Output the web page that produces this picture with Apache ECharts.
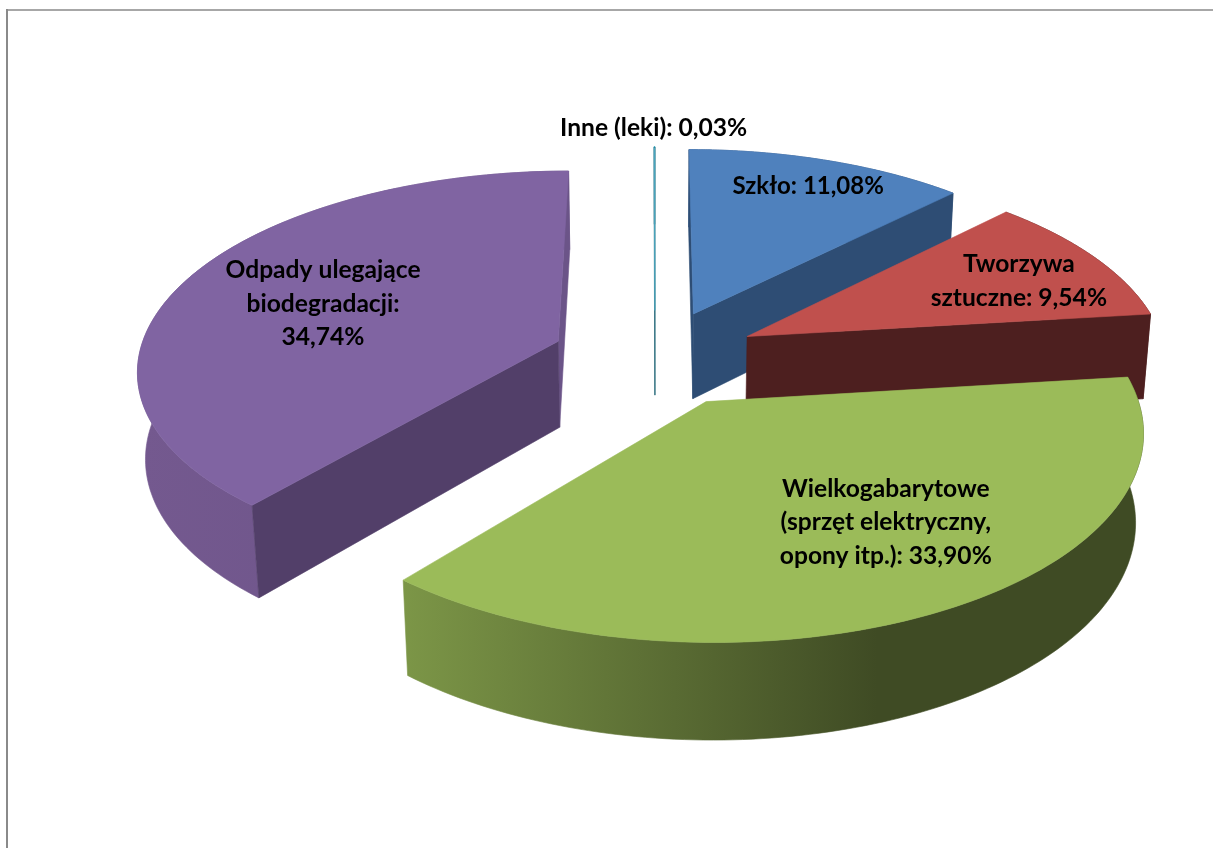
<!DOCTYPE html>
<html><head><meta charset="utf-8">
<style>html,body{margin:0;padding:0;background:#fff}#c{width:1213px;height:848px}</style>
<script src="https://cdn.jsdelivr.net/npm/echarts@6/dist/echarts.min.js"></script>
</head><body><div id="c"></div>
<script>
// Data, in the chart's clockwise order from twelve o'clock
const categories = ['Szkło', 'Tworzywa sztuczne', 'Wielkogabarytowe (sprzęt elektryczny, opony itp.)', 'Odpady ulegające biodegradacji', 'Inne (leki)'];
const values = [11.08, 9.54, 33.90, 34.74, 0.03];
const labels = ['Szkło: 11,08%', 'Tworzywa\nsztuczne: 9,54%', 'Wielkogabarytowe\n(sprzęt elektryczny,\nopony itp.): 33,90%', 'Odpady ulegające\nbiodegradacji:\n34,74%', 'Inne (leki): 0,03%'];

// Styles
const topColors = ['#4F81BD', '#C0504D', '#9BBB59', '#8064A2', '#4BACC6'];
const startWallColors = ['#2E4D74', '#4D1F1F', '#7C9647', '#523F69', '#2F6E80'];
const endWallColors = ['#2E4D74', '#4D1F1F', '#7C9647', '#6B5488', '#2F6E80'];
const rimStops = [
  [[0, '#3A5E8C'], [1, '#2E4D74']],
  [[0, '#4D1F1F'], [1, '#4D1F1F']],
  [[0, '#7C9647'], [0.64, '#3F4B24'], [1, '#3F4B24']],
  [[0, '#74598F'], [1, '#6A5287']],
  [[0, '#2F6E80'], [1, '#2F6E80']]
];
const labelNudge = [[24, -24], [42, -3], [30, -8], [9, 4], [-1, -72]];

// Camera and pie geometry
const view = { cx: 655, cy: 357.6, k: 0.468, D: 3200, R: 420, explode: 104, h: 88, sink: 50 };

const total = values.reduce((a, b) => a + b, 0);
let acc = 0;
const slices = values.map((v, i) => {
  const a0 = acc / total * 2 * Math.PI; acc += v;
  const a1 = acc / total * 2 * Math.PI;
  const mid = (a0 + a1) / 2;
  return { i, a0, a1, mid, ox: view.explode * Math.sin(mid), oy: -view.explode * Math.cos(mid) };
});
const order = slices.slice().sort((a, b) => a.oy - b.oy).map(s => s.i);

function project(X, Y, low) {
  const s = view.D / (view.D - Y + (low ? view.sink : 0));
  return [view.cx + X * s, view.cy + (view.k * Y + (low ? view.h : 0)) * s];
}
function signedArea(pts) {
  let a = 0;
  pts.forEach((p, j) => { const q = pts[(j + 1) % pts.length]; a += p[0] * q[1] - q[0] * p[1]; });
  return a;
}
function renderItem(params, api) {
  const sl = slices[api.value(0)];
  const i = sl.i, V = view;
  const rim = (t) => {
    const a = sl.a0 + (sl.a1 - sl.a0) * t;
    return [sl.ox + V.R * Math.sin(a), sl.oy - V.R * Math.cos(a)];
  };
  const n = 120, topArc = [], lowArc = [];
  for (let j = 0; j <= n; j++) {
    const p = rim(j / n);
    topArc.push(project(p[0], p[1], false));
    lowArc.push(project(p[0], p[1], true));
  }
  const apexT = project(sl.ox, sl.oy, false), apexL = project(sl.ox, sl.oy, true);
  const poly = (points, fill) => ({ type: 'polygon', shape: { points }, style: { fill, stroke: fill, lineWidth: 0.6 } });
  const xs = lowArc.concat(topArc).map(p => p[0]);
  const minX = Math.min.apply(null, xs), maxX = Math.max.apply(null, xs);
  const grad = new echarts.graphic.LinearGradient(minX, 0, maxX, 0,
    rimStops[i].map(s => ({ offset: s[0], color: s[1] })), true);
  const children = [poly(topArc.concat(lowArc.slice().reverse()), grad)];
  const endWall = [apexT, topArc[n], lowArc[n], apexL];
  const startWall = [apexT, topArc[0], lowArc[0], apexL];
  // a radial wall is only drawn when it faces the camera
  if (signedArea(endWall) > 0) children.push(poly(endWall, endWallColors[i]));
  if (signedArea(startWall) < 0) children.push(poly(startWall, startWallColors[i]));
  children.push(poly([apexT].concat(topArc), topColors[i]));
  const f = 0.65;
  const lp = project(sl.ox + V.R * f * Math.sin(sl.mid), sl.oy - V.R * f * Math.cos(sl.mid), false);
  children.push({
    type: 'text',
    style: {
      text: labels[i], x: lp[0] + labelNudge[i][0], y: lp[1] + labelNudge[i][1],
      align: 'center', verticalAlign: 'middle',
      fontFamily: 'Lato', fontWeight: 'bold', fontSize: i === 0 ? 24 : 24.6, lineHeight: 33.5, fill: '#000'
    }
  });
  return { type: 'group', children };
}
const chart = echarts.init(document.getElementById('c'), null, { renderer: 'canvas' });
chart.setOption({
  animation: false,
  backgroundColor: '#fff',
  graphic: [
    { type: 'line', shape: { x1: 7, y1: 9, x2: 7, y2: 848 }, style: { stroke: '#8A8A8A', lineWidth: 2 }, z: 1 },
    { type: 'line', shape: { x1: 6, y1: 10, x2: 1213, y2: 10 }, style: { stroke: '#8A8A8A', lineWidth: 1.6 }, z: 1 }
  ],
  series: [{
    type: 'custom',
    coordinateSystem: 'none',
    renderItem,
    data: order.map(i => ({ name: categories[i], value: [i, values[i]] }))
  }]
});
</script></body></html>
